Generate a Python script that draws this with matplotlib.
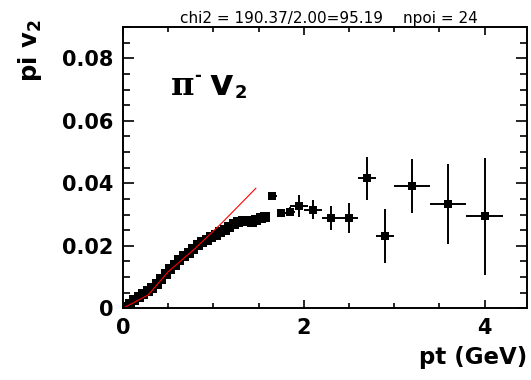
import numpy as np
import matplotlib.pyplot as plt
from matplotlib.ticker import MultipleLocator, FixedFormatter, FixedLocator

plt.rcParams['mathtext.fontset'] = 'dejavusans'

# low pt points (dense band, no visible errors)
pt_low = [0.025, 0.075, 0.125, 0.175, 0.225, 0.275, 0.325, 0.375, 0.425, 0.475,
          0.525, 0.575, 0.625, 0.675, 0.725, 0.775, 0.825, 0.875, 0.925, 0.975,
          1.025, 1.075, 1.125, 1.175, 1.225, 1.275, 1.325, 1.375, 1.425, 1.475,
          1.525, 1.575]
v2_low = [0.0005, 0.0015, 0.0026, 0.0036, 0.0046, 0.0055, 0.0066, 0.0079, 0.0094, 0.0110,
          0.0125, 0.0140, 0.0153, 0.0166, 0.0178, 0.0190, 0.0201, 0.0211, 0.0219, 0.0227,
          0.0236, 0.0244, 0.0252, 0.0261, 0.0270, 0.0276, 0.0280, 0.0278, 0.0276, 0.0282,
          0.0288, 0.0293]

# higher pt points with error bars
pt_high = [1.65, 1.75, 1.85, 1.95, 2.1, 2.3, 2.5, 2.7, 2.9, 3.2, 3.6, 4.0]
v2_high = [0.0359, 0.0306, 0.0309, 0.0327, 0.0315, 0.0288, 0.0288, 0.0416, 0.0231, 0.0391, 0.0334, 0.0294]
v2_err = [0.0008, 0.0012, 0.0014, 0.0036, 0.0030, 0.0038, 0.0048, 0.0068, 0.0086, 0.0086, 0.0128, 0.0187]
pt_err = [0.05, 0.05, 0.05, 0.1, 0.1, 0.1, 0.1, 0.1, 0.1, 0.2, 0.2, 0.2]

# red fit curve
fit_pt = [0.0, 0.28, 0.50, 0.80, 1.09, 1.47]
fit_v2 = [0.0, 0.0043, 0.0117, 0.0192, 0.0272, 0.0384]

fig = plt.figure(figsize=(5.31, 3.80), dpi=100)
ax = fig.add_axes([0.2316, 0.1887, 0.7609, 0.7410])

ax.plot(pt_low, v2_low, 's', color='black', ms=7, mew=0)
ax.errorbar(pt_high, v2_high, yerr=v2_err, xerr=pt_err, fmt='s', color='black',
            ms=6, mew=0, elinewidth=1.4, capsize=3.5, capthick=1.4)
ax.plot(fit_pt, fit_v2, '-', color='red', lw=0.8)

ax.set_xlim(0, 4.47)
ax.set_ylim(0, 0.0901)

ax.xaxis.set_major_locator(FixedLocator([0, 2, 4]))
ax.xaxis.set_minor_locator(MultipleLocator(0.5))
ax.yaxis.set_major_locator(FixedLocator([0, 0.02, 0.04, 0.06, 0.08]))
ax.yaxis.set_major_formatter(FixedFormatter(['0', '0.02', '0.04', '0.06', '0.08']))
ax.yaxis.set_minor_locator(MultipleLocator(0.005))

for sp in ax.spines.values():
    sp.set_linewidth(1.4)
ax.tick_params(axis='both', which='both', direction='in', top=True, right=True, width=1.2)
ax.tick_params(axis='x', which='major', length=6, pad=7)
ax.tick_params(axis='x', which='minor', length=3.5)
ax.tick_params(axis='y', which='major', length=8, pad=7)
ax.tick_params(axis='y', which='minor', length=5)
for lab in ax.get_xticklabels() + ax.get_yticklabels():
    lab.set_fontsize(15)
    lab.set_fontweight('bold')

# title in two pieces
fig.text(180 / 531, 1 - 23.3 / 380, 'chi2 = 190.37/2.00=95.19', fontsize=11,
         ha='left', va='baseline')
fig.text(478 / 531, 1 - 23.3 / 380, 'npoi = 24', fontsize=11,
         ha='right', va='baseline')

fig.text(0.057, 0.95, r'pi v$_\mathbf{2}$', rotation=90, fontsize=17.5, fontweight='bold',
         ha='center', va='top')
fig.text(0.993, 0.058, 'pt (GeV)', fontsize=16.5, fontweight='bold', ha='right', va='center')

# pi- v2 label
ax.text(0.53, 0.0682, 'π', fontsize=23, family='DejaVu Serif', fontweight='bold',
        ha='left', va='baseline')
ax.text(0.79, 0.0742, '-', fontsize=12, fontweight='bold', ha='left', va='center')
ax.text(0.96, 0.0682, 'v', fontsize=26, fontweight='bold', ha='left', va='baseline')
ax.text(1.24, 0.0673, '2', fontsize=13, fontweight='bold', ha='left', va='baseline')

fig.savefig('out.png', dpi=100)
